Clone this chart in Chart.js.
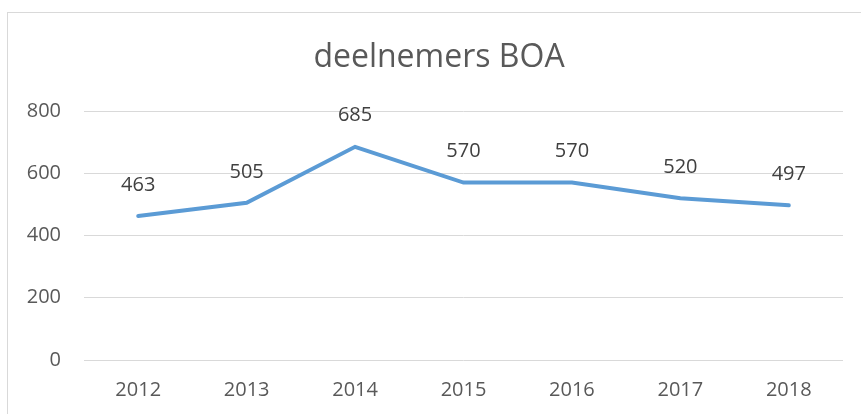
<!DOCTYPE html>
<html>
<head>
<meta charset="utf-8">
<script src="https://cdn.jsdelivr.net/npm/chart.js@4"></script>
<style>
  html, body { margin: 0; padding: 0; background: #fff; }
  #wrap { width: 861px; height: 414px; position: relative; }
</style>
</head>
<body>
<div id="wrap"><canvas id="chart" width="861" height="414"></canvas></div>
<script>
const years = ["2012", "2013", "2014", "2015", "2016", "2017", "2018"];
const participants = [463, 505, 685, 570, 570, 520, 497];
const yTicks = [0, 200, 400, 600, 800];
const chartTitle = "deelnemers BOA";

const FONT = "'Open Sans', sans-serif";

// light frame + title, drawn like the office export
const framePlugin = {
  id: "frame",
  beforeDraw(chart) {
    const ctx = chart.ctx;
    ctx.save();
    ctx.strokeStyle = "#d9d9d9";
    ctx.lineWidth = 1;
    ctx.strokeRect(7.5, 12.5, 1000, 1000);
    ctx.font = `32px ${FONT}`;
    ctx.fillStyle = "#595959";
    ctx.textAlign = "center";
    ctx.textBaseline = "alphabetic";
    ctx.fillText(chartTitle, 439, 67);
    ctx.restore();
  },
};

// value labels above each point
const valueLabels = {
  id: "valueLabels",
  afterDatasetsDraw(chart) {
    const ctx = chart.ctx;
    const meta = chart.getDatasetMeta(0);
    ctx.save();
    ctx.font = `20px ${FONT}`;
    ctx.fillStyle = "#404040";
    ctx.textAlign = "center";
    ctx.textBaseline = "middle";
    meta.data.forEach((pt, i) => {
      ctx.fillText(String(participants[i]), pt.x, pt.y - 31);
    });
    ctx.restore();
  },
};

new Chart(document.getElementById("chart"), {
  type: "line",
  data: {
    labels: years,
    datasets: [
      {
        label: "deelnemers",
        data: participants,
        borderColor: "#5b9bd5",
        borderWidth: 4,
        borderCapStyle: "round",
        pointRadius: 0,
        tension: 0,
      },
    ],
  },
  options: {
    responsive: false,
    animation: false,
    layout: { padding: { left: 0, right: 18, top: 111, bottom: 13 } },
    plugins: {
      legend: { display: false },
      tooltip: { enabled: false },
      title: { display: false },
    },
    scales: {
      x: {
        offset: true,
        grid: { display: false, drawTicks: false },
        border: { display: false },
        ticks: { color: "#595959", font: { family: FONT, size: 20 }, padding: 18, maxRotation: 0 },
        afterFit: (scale) => { scale.height = 41; },
      },
      y: {
        min: 0,
        max: 800,
        afterBuildTicks: (scale) => { scale.ticks = yTicks.map((v) => ({ value: v })); },
        grid: { color: "#d9d9d9", lineWidth: 1, drawTicks: false },
        border: { display: false },
        ticks: { color: "#595959", font: { family: FONT, size: 20 }, padding: 23 },
        afterFit: (scale) => { scale.width = 84; },
      },
    },
  },
  plugins: [framePlugin, valueLabels],
});
</script>
</body>
</html>
